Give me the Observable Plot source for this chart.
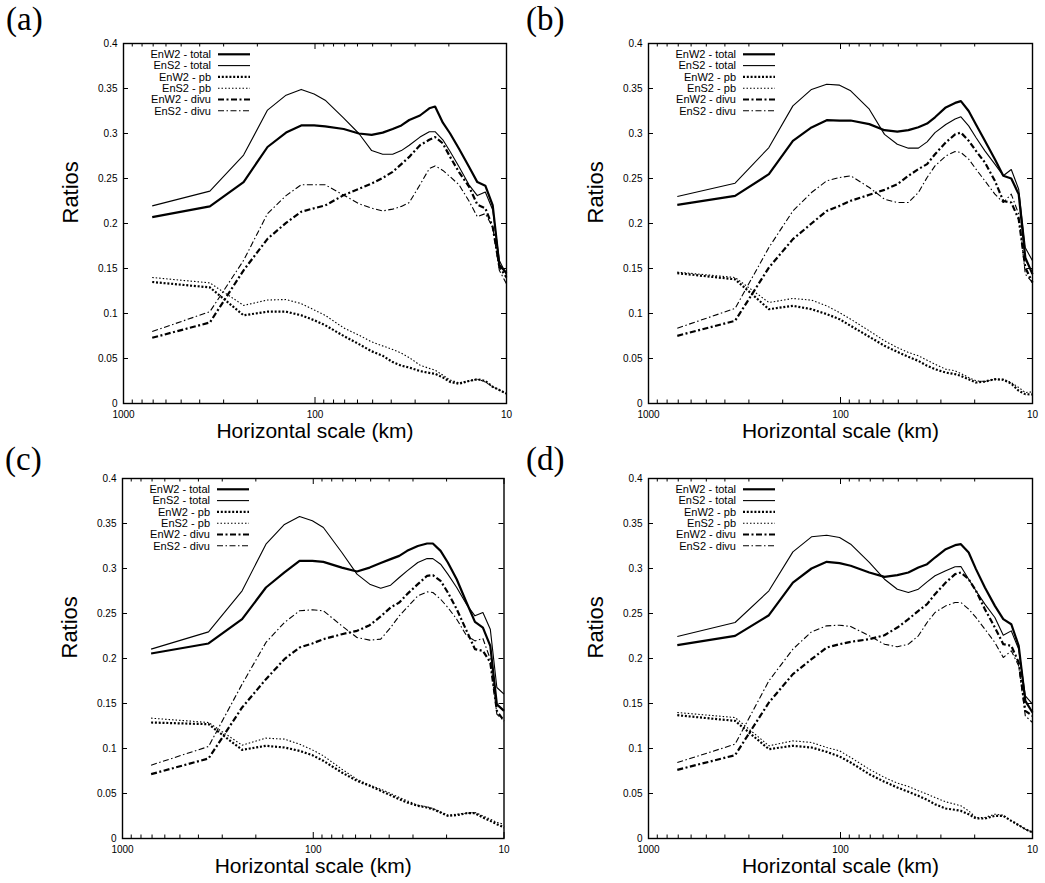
<!DOCTYPE html>
<html><head><meta charset="utf-8">
<script src="https://cdn.jsdelivr.net/npm/d3@7"></script>
<script src="https://cdn.jsdelivr.net/npm/@observablehq/plot@0.6"></script>
<style>
body{margin:0;background:#fff;}
#root{position:relative;width:1045px;height:883px;background:#fff;overflow:hidden;}
.panel{position:absolute;}
.tag{position:absolute;font-family:"Liberation Serif","DejaVu Serif",serif;font-size:33px;line-height:1;color:#000;}
</style></head><body><div id="root"></div>
<script>
// ---------------- data ----------------
const scaleKm = [708, 354, 236, 177, 141.6, 118, 101.1, 88.5, 70.8, 59, 50.6, 44.3, 39.3, 35.4, 32.2, 28.3, 25.3, 23.6, 21.5, 19.7, 17.7, 15.7, 14.2, 12.9, 11.8, 10.9, 10];

const seriesLabels = ["EnW2 - total", "EnS2 - total", "EnW2 - pb", "EnS2 - pb", "EnW2 - divu", "EnS2 - divu"];
const panelTags = ["(a)", "(b)", "(c)", "(d)"];
const yTicks = [0, 0.05, 0.1, 0.15, 0.2, 0.25, 0.3, 0.35, 0.4];
const xMajor = [1000, 100, 10];
const xMinor = [900, 800, 700, 600, 500, 400, 300, 200, 90, 80, 70, 60, 50, 40, 30, 20];
const xLabel = "Horizontal scale (km)";
const yLabel = "Ratios";

// panel (a)
const a_EnW2_total = [0.207, 0.219, 0.246, 0.285, 0.301, 0.309, 0.309, 0.308, 0.305, 0.300, 0.2985, 0.301, 0.305, 0.309, 0.315, 0.320, 0.328, 0.330, 0.312, 0.300, 0.283, 0.263, 0.246, 0.242, 0.220, 0.154, 0.145];
const a_EnS2_total = [0.2196, 0.236, 0.276, 0.326, 0.3426, 0.349, 0.344, 0.337, 0.317, 0.300, 0.281, 0.277, 0.277, 0.281, 0.287, 0.296, 0.302, 0.302, 0.293, 0.280, 0.263, 0.243, 0.231, 0.235, 0.215, 0.159, 0.143];
const a_EnW2_pb = [0.135, 0.129, 0.098, 0.102, 0.102, 0.098, 0.0926, 0.087, 0.075, 0.066, 0.058, 0.053, 0.046, 0.042, 0.040, 0.036, 0.034, 0.033, 0.029, 0.024, 0.022, 0.025, 0.027, 0.025, 0.0185, 0.015, 0.011];
const a_EnS2_pb = [0.140, 0.134, 0.109, 0.115, 0.1155, 0.111, 0.104, 0.098, 0.084, 0.076, 0.0685, 0.064, 0.060, 0.056, 0.051, 0.0426, 0.039, 0.037, 0.0315, 0.026, 0.023, 0.025, 0.027, 0.024, 0.0185, 0.015, 0.011];
const a_EnW2_divu = [0.073, 0.090, 0.148, 0.183, 0.2007, 0.213, 0.217, 0.220, 0.2315, 0.2385, 0.2444, 0.2507, 0.2574, 0.266, 0.274, 0.287, 0.293, 0.296, 0.289, 0.274, 0.257, 0.241, 0.221, 0.217, 0.196, 0.152, 0.140];
const a_EnS2_divu = [0.080, 0.102, 0.159, 0.211, 0.231, 0.243, 0.243, 0.243, 0.2315, 0.222, 0.217, 0.214, 0.216, 0.219, 0.2233, 0.243, 0.261, 0.264, 0.259, 0.252, 0.243, 0.225, 0.2075, 0.211, 0.196, 0.148, 0.133];

// panel (b)
const b_EnW2_total = [0.2207, 0.2307, 0.2548, 0.2919, 0.3067, 0.3148, 0.3144, 0.3144, 0.3104, 0.3037, 0.302, 0.3037, 0.307, 0.311, 0.318, 0.329, 0.334, 0.336, 0.325, 0.310, 0.292, 0.2715, 0.253, 0.250, 0.2326, 0.162, 0.1437];
const b_EnS2_total = [0.230, 0.2448, 0.2844, 0.3307, 0.349, 0.3548, 0.3537, 0.3474, 0.327, 0.299, 0.288, 0.2837, 0.2837, 0.2907, 0.301, 0.310, 0.316, 0.3185, 0.3085, 0.2956, 0.2807, 0.266, 0.253, 0.260, 0.238, 0.173, 0.1585];
const b_EnW2_pb = [0.1448, 0.138, 0.1048, 0.1085, 0.1048, 0.0993, 0.0937, 0.0863, 0.0741, 0.0641, 0.0574, 0.0519, 0.0474, 0.0419, 0.0381, 0.0344, 0.0326, 0.0307, 0.027, 0.0233, 0.0244, 0.027, 0.0263, 0.0222, 0.0141, 0.0104, 0.010];
const b_EnS2_pb = [0.146, 0.140, 0.1122, 0.1167, 0.1148, 0.1085, 0.101, 0.0937, 0.0807, 0.0696, 0.0622, 0.0567, 0.053, 0.0481, 0.0437, 0.0381, 0.0363, 0.0333, 0.0289, 0.0252, 0.0244, 0.027, 0.027, 0.0233, 0.0178, 0.0122, 0.013];
const b_EnW2_divu = [0.0752, 0.0919, 0.151, 0.1826, 0.200, 0.214, 0.2196, 0.2252, 0.2319, 0.2374, 0.2437, 0.253, 0.2604, 0.266, 0.277, 0.290, 0.299, 0.301, 0.292, 0.2807, 0.2678, 0.2474, 0.225, 0.2233, 0.2048, 0.151, 0.1344];
const b_EnS2_divu = [0.0837, 0.1056, 0.1733, 0.214, 0.2344, 0.2474, 0.2511, 0.253, 0.240, 0.227, 0.2233, 0.2233, 0.2344, 0.2511, 0.264, 0.275, 0.280, 0.2789, 0.2715, 0.2604, 0.2474, 0.2326, 0.2233, 0.2326, 0.2104, 0.1437, 0.1344];

// panel (c)
const c_EnW2_total = [0.2056, 0.2167, 0.2437, 0.2789, 0.2956, 0.3085, 0.3085, 0.3074, 0.301, 0.2967, 0.301, 0.306, 0.3104, 0.314, 0.3196, 0.325, 0.3278, 0.3278, 0.3196, 0.3067, 0.288, 0.262, 0.2407, 0.2344, 0.214, 0.149, 0.1418];
const c_EnS2_total = [0.2104, 0.2296, 0.2752, 0.327, 0.349, 0.3578, 0.353, 0.3456, 0.3178, 0.2937, 0.2826, 0.278, 0.2815, 0.29, 0.2974, 0.3067, 0.311, 0.311, 0.3048, 0.2937, 0.2789, 0.260, 0.2474, 0.2511, 0.2326, 0.1678, 0.1604];
const c_EnW2_pb = [0.1289, 0.127, 0.0985, 0.103, 0.1011, 0.0974, 0.0926, 0.0863, 0.0733, 0.0641, 0.0585, 0.053, 0.0481, 0.0437, 0.040, 0.0363, 0.0344, 0.0326, 0.0289, 0.0252, 0.0259, 0.0281, 0.0281, 0.0233, 0.0196, 0.0159, 0.0122];
const c_EnS2_pb = [0.1337, 0.1289, 0.1037, 0.1115, 0.1104, 0.1048, 0.0985, 0.0919, 0.077, 0.0659, 0.0593, 0.0548, 0.05, 0.0456, 0.0419, 0.037, 0.0352, 0.0333, 0.0296, 0.0259, 0.027, 0.0281, 0.0289, 0.0252, 0.0215, 0.0178, 0.0159];
const c_EnW2_divu = [0.0715, 0.0889, 0.1456, 0.177, 0.1993, 0.2122, 0.2167, 0.2215, 0.227, 0.2307, 0.237, 0.2467, 0.2567, 0.2622, 0.2715, 0.2826, 0.2919, 0.2926, 0.2863, 0.2733, 0.2548, 0.2307, 0.2104, 0.2085, 0.1956, 0.1418, 0.1307];
const c_EnS2_divu = [0.0815, 0.1022, 0.1715, 0.2178, 0.240, 0.253, 0.2541, 0.253, 0.2363, 0.2233, 0.2204, 0.2215, 0.2344, 0.2474, 0.2567, 0.2696, 0.274, 0.2733, 0.2659, 0.2567, 0.2437, 0.2252, 0.2196, 0.2222, 0.1993, 0.1381, 0.1307];

// panel (d)
const d_EnW2_total = [0.2148, 0.2252, 0.2481, 0.2844, 0.300, 0.3074, 0.306, 0.303, 0.2956, 0.2907, 0.2926, 0.2956, 0.3011, 0.3048, 0.3122, 0.3215, 0.3259, 0.327, 0.3178, 0.2993, 0.2789, 0.2585, 0.2437, 0.2381, 0.2141, 0.153, 0.140];
const d_EnS2_total = [0.2244, 0.24, 0.2752, 0.3185, 0.3352, 0.337, 0.3344, 0.327, 0.3067, 0.2881, 0.277, 0.2733, 0.277, 0.2852, 0.2919, 0.2974, 0.3019, 0.3022, 0.2881, 0.2752, 0.2604, 0.2456, 0.2259, 0.2307, 0.2104, 0.1585, 0.1493];
const d_EnW2_pb = [0.137, 0.1307, 0.0993, 0.103, 0.1011, 0.0963, 0.0911, 0.0844, 0.0715, 0.063, 0.0567, 0.0519, 0.0474, 0.043, 0.0381, 0.0333, 0.0319, 0.0307, 0.027, 0.0222, 0.0222, 0.0252, 0.0252, 0.0196, 0.0148, 0.0104, 0.0067];
const d_EnS2_pb = [0.14, 0.1344, 0.103, 0.1085, 0.1067, 0.1011, 0.0974, 0.09, 0.077, 0.0678, 0.0615, 0.0578, 0.053, 0.0493, 0.0456, 0.0407, 0.0381, 0.0363, 0.0307, 0.0233, 0.0233, 0.027, 0.0259, 0.0196, 0.0148, 0.0104, 0.0067];
const d_EnW2_divu = [0.0763, 0.0926, 0.1511, 0.1826, 0.1993, 0.2122, 0.2159, 0.2185, 0.2215, 0.2259, 0.2344, 0.2437, 0.253, 0.2604, 0.2715, 0.2844, 0.2937, 0.2956, 0.2881, 0.2752, 0.2548, 0.2344, 0.2159, 0.2141, 0.1956, 0.1419, 0.1363];
const d_EnS2_divu = [0.0844, 0.1048, 0.1752, 0.2104, 0.2296, 0.2363, 0.237, 0.2356, 0.2252, 0.2159, 0.213, 0.2159, 0.2252, 0.24, 0.2511, 0.2585, 0.2622, 0.2622, 0.2548, 0.2456, 0.2326, 0.2178, 0.2011, 0.2085, 0.1919, 0.1363, 0.1289];

// ---------------- styles & layout ----------------
const lineStyles = [
  {w: 2.2, dash: null},
  {w: 1.1, dash: null},
  {w: 2.2, dash: "2,1.8"},
  {w: 1.1, dash: "1.5,2"},
  {w: 2.2, dash: "6,2.5,2,2.5"},
  {w: 1.1, dash: "6,2.5,1.5,2.5"}
];
const panelSeries = [
  [a_EnW2_total, a_EnS2_total, a_EnW2_pb, a_EnS2_pb, a_EnW2_divu, a_EnS2_divu],
  [b_EnW2_total, b_EnS2_total, b_EnW2_pb, b_EnS2_pb, b_EnW2_divu, b_EnS2_divu],
  [c_EnW2_total, c_EnS2_total, c_EnW2_pb, c_EnS2_pb, c_EnW2_divu, c_EnS2_divu],
  [d_EnW2_total, d_EnS2_total, d_EnW2_pb, d_EnS2_pb, d_EnW2_divu, d_EnS2_divu]
];
const layout = [
  {left: 0,   top: 0,   mL: 123, mR: 14,   tagLeft: 6,   tagTop: 3},
  {left: 525, top: 0,   mL: 123, mR: 13,   tagLeft: 526, tagTop: 3},
  {left: 0,   top: 435, mL: 122, mR: 16.5, tagLeft: 5,   tagTop: 443},
  {left: 525, top: 435, mL: 123, mR: 13,   tagLeft: 526, tagTop: 443}
];
const W = 520, H = 445, mT = 43, mB = 42;

function legendMark(index, scales, values, dims) {
  const g = d3.create("svg:g");
  const x0 = dims.marginLeft, y0 = dims.marginTop;
  seriesLabels.forEach((lab, i) => {
    const y = y0 + 11.3 * (i + 1);
    g.append("text")
      .attr("x", x0 + 88).attr("y", y).attr("dy", "0.35em")
      .attr("text-anchor", "end").attr("font-size", 11)
      .attr("fill", "black").text(lab);
    g.append("line")
      .attr("x1", x0 + 95).attr("x2", x0 + 127).attr("y1", y).attr("y2", y)
      .attr("stroke", "black").attr("stroke-width", lineStyles[i].w)
      .attr("stroke-linecap", "butt")
      .attr("stroke-dasharray", lineStyles[i].dash);
  });
  return g.node();
}

const root = document.getElementById("root");

panelSeries.forEach((series, p) => {
  const L = layout[p];
  const fw = W - L.mL - L.mR;
  const fh = H - mT - mB;
  const lineMarks = series.map((vals, s) => {
    const rows = scaleKm.map((km, i) => ({km, v: vals[i]}));
    return Plot.line(rows, {
      x: "km", y: "v", stroke: "black",
      strokeWidth: lineStyles[s].w,
      strokeDasharray: lineStyles[s].dash || undefined,
      strokeLinejoin: "round",
      strokeLinecap: "butt"
    });
  });
  const chart = Plot.plot({
    width: W, height: H,
    marginLeft: L.mL, marginRight: L.mR, marginTop: mT, marginBottom: mB,
    style: {fontFamily: "'Liberation Sans', Arial, sans-serif", fontSize: "10px", color: "black", background: "transparent", overflow: "visible"},
    x: {type: "log", domain: [1000, 10]},
    y: {domain: [0, 0.4]},
    marks: [
      ...lineMarks,
      // inward ticks (gnuplot style)
      Plot.tickY(yTicks, {y: d => d, insetRight: fw - 5, stroke: "black", strokeWidth: 1}),
      Plot.tickY(yTicks, {y: d => d, insetLeft: fw - 5, stroke: "black", strokeWidth: 1}),
      Plot.tickX(xMajor, {x: d => d, insetTop: fh - 6, stroke: "black", strokeWidth: 1}),
      Plot.tickX(xMajor, {x: d => d, insetBottom: fh - 6, stroke: "black", strokeWidth: 1}),
      Plot.tickX(xMinor, {x: d => d, insetTop: fh - 3.5, stroke: "black", strokeWidth: 1}),
      Plot.tickX(xMinor, {x: d => d, insetBottom: fh - 3.5, stroke: "black", strokeWidth: 1}),
      Plot.axisY(yTicks, {anchor: "left", tickSize: 0, tickPadding: 6, tickFormat: d => String(d), label: null, fontSize: 10}),
      Plot.axisX(xMajor, {anchor: "bottom", tickSize: 0, tickPadding: 7, tickFormat: d => String(d), label: null, fontSize: 10}),
      Plot.frame({stroke: "black", strokeWidth: 1.4}),
      Plot.text([xLabel], {frameAnchor: "bottom", dy: 34, fontSize: 21, fill: "black"}),
      Plot.text([yLabel], {frameAnchor: "left", dx: -53, rotate: -90, fontSize: 22, fill: "black"}),
      legendMark
    ]
  });
  const wrap = document.createElement("div");
  wrap.className = "panel";
  wrap.style.left = L.left + "px";
  wrap.style.top = L.top + "px";
  wrap.appendChild(chart);
  root.appendChild(wrap);

  const tag = document.createElement("div");
  tag.className = "tag";
  tag.style.left = L.tagLeft + "px";
  tag.style.top = L.tagTop + "px";
  tag.textContent = panelTags[p];
  root.appendChild(tag);
});
</script></body></html>
